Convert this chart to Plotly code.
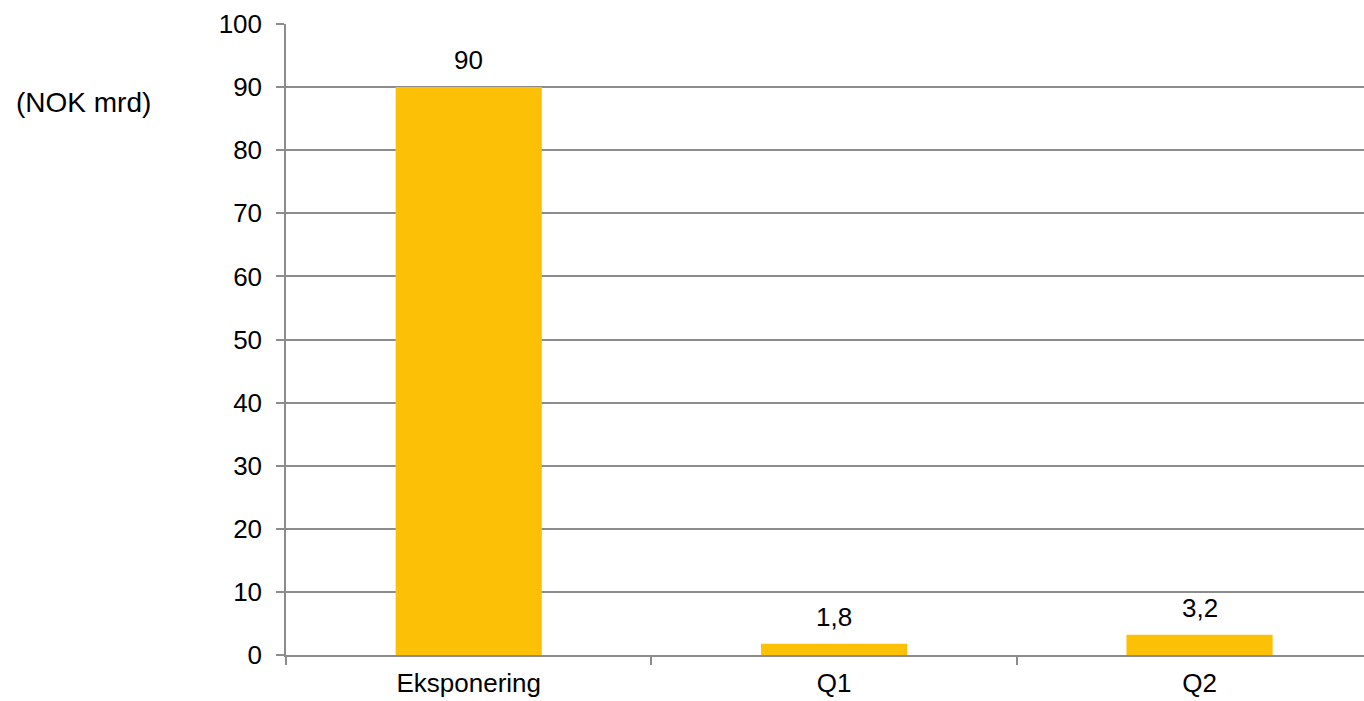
import plotly.graph_objects as go

categories = ["Eksponering", "Q1", "Q2"]
values = [90, 1.8, 3.2]
value_labels = ["90", "1,8", "3,2"]
y_ticks = [0, 10, 20, 30, 40, 50, 60, 70, 80, 90, 100]

bar_color = "#FCC107"
grid_color = "#8C8C8C"
font_family = "Liberation Sans, Arial, sans-serif"
font_size = 26

fig = go.Figure()
fig.add_trace(go.Bar(
    x=categories,
    y=values,
    width=0.4,
    marker=dict(color=bar_color, line=dict(width=0)),
    hoverinfo="skip",
))

# value labels above each bar
for cat, val, lab in zip(categories, values, value_labels):
    fig.add_annotation(
        x=cat, y=val, text=lab, showarrow=False,
        yanchor="bottom", yshift=10,
        font=dict(size=font_size, color="#000000", family=font_family),
    )

# unit label to the left of the axis
fig.add_annotation(
    xref="paper", yref="paper", x=-0.252, y=0.876,
    text="(NOK mrd)", showarrow=False, xanchor="left", yanchor="middle",
    font=dict(size=28, color="#000000", family=font_family),
)

fig.update_layout(
    width=1364, height=701,
    margin=dict(l=286, r=0, t=24, b=46),
    paper_bgcolor="white", plot_bgcolor="white",
    showlegend=False,
    bargap=0.6,
    font=dict(family=font_family, size=font_size, color="#000000"),
    xaxis=dict(
        type="category",
        range=[-0.5, 2.45],
        tickson="boundaries",
        ticks="outside", ticklen=8, tickwidth=1.5, tickcolor=grid_color,
        showline=True, linecolor=grid_color, linewidth=1.5,
        showgrid=False,
        ticklabelstandoff=4,
        tickfont=dict(size=font_size, family=font_family, color="#000000"),
    ),
    yaxis=dict(
        range=[0, 100],
        tickvals=y_ticks,
        ticks="outside", ticklen=8, tickwidth=1.5, tickcolor=grid_color,
        showline=True, linecolor=grid_color, linewidth=1.5,
        showgrid=True, gridcolor=grid_color, gridwidth=1.5,
        zeroline=False,
        ticklabelstandoff=9,
        tickfont=dict(size=font_size, family=font_family, color="#000000"),
    ),
)

fig.write_html("out.html")
